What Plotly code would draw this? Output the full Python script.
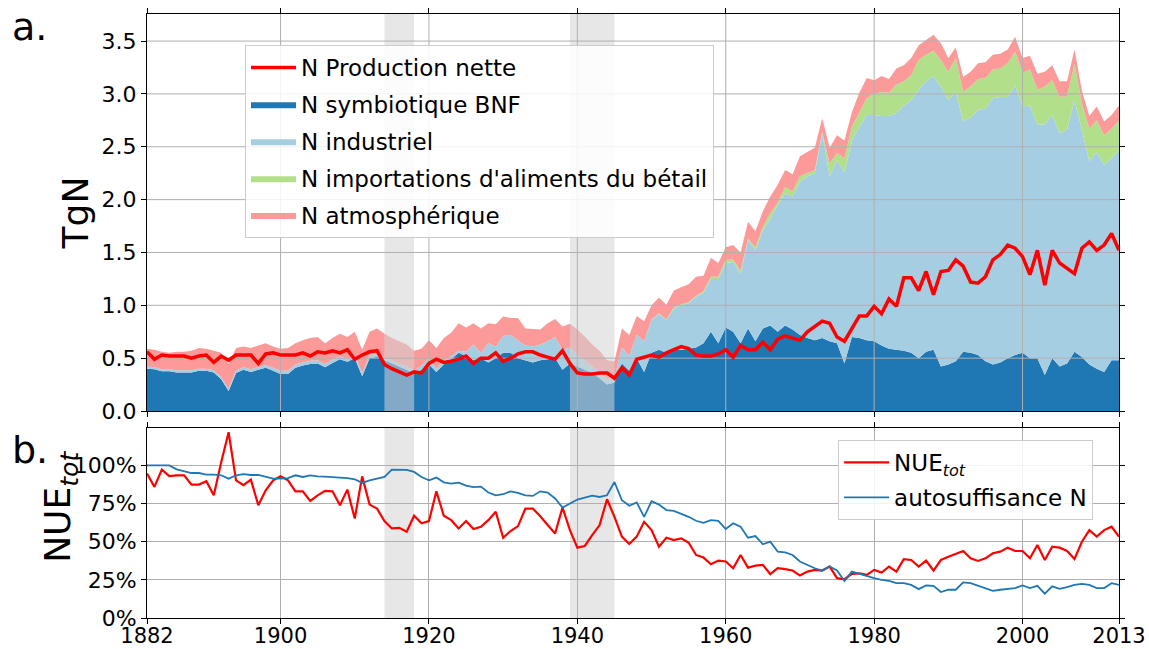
import plotly.graph_objects as go

# ---------------------------------------------------------------------------
# Data (1882-2013)
# ---------------------------------------------------------------------------
years = list(range(1882, 2014))

# Nitrogen inputs, TgN
bnf = [
    0.40, 0.395, 0.375, 0.375, 0.365, 0.365, 0.365, 0.38, 0.38, 0.365,
    0.30, 0.19, 0.36, 0.39, 0.37, 0.39, 0.41, 0.38, 0.35, 0.35,
    0.41, 0.43, 0.445, 0.45, 0.415, 0.455, 0.49, 0.465, 0.50, 0.33,
    0.50, 0.51, 0.48, 0.45, 0.42, 0.39, 0.35, 0.39, 0.44, 0.37,
    0.44, 0.49, 0.55, 0.52, 0.48, 0.50, 0.46, 0.50, 0.55, 0.55,
    0.50, 0.48, 0.46, 0.48, 0.49, 0.50, 0.39, 0.45, 0.42, 0.39,
    0.36, 0.31, 0.25, 0.27, 0.45, 0.38, 0.50, 0.37, 0.55, 0.58,
    0.55, 0.58, 0.58, 0.59, 0.60, 0.64, 0.75, 0.64, 0.79, 0.75,
    0.64, 0.78, 0.66, 0.78, 0.81, 0.75, 0.81, 0.77, 0.72, 0.69,
    0.67, 0.69, 0.66, 0.64, 0.45, 0.70, 0.69, 0.67, 0.66, 0.62,
    0.59, 0.58, 0.57, 0.55, 0.50, 0.56, 0.58, 0.42, 0.44, 0.47,
    0.56, 0.55, 0.53, 0.47, 0.44, 0.46, 0.50, 0.53, 0.55, 0.50,
    0.50, 0.34, 0.50, 0.42, 0.45, 0.56, 0.51, 0.44, 0.40, 0.37,
    0.48, 0.48,
]

industriel = [
    0.02, 0.02, 0.02, 0.02, 0.02, 0.02, 0.02, 0.02, 0.02, 0.02,
    0.02, 0.02, 0.025, 0.025, 0.025, 0.025, 0.025, 0.03, 0.03, 0.03,
    0.03, 0.03, 0.03, 0.03, 0.03, 0.03, 0.03, 0.03, 0.03, 0.03,
    0.03, 0.03, 0.03, 0.03, 0.03, 0.03, 0.03, 0.04, 0.06, 0.03,
    0.04, 0.03, 0.02, 0.04, 0.15, 0.05, 0.18, 0.11, 0.16, 0.17,
    0.17, 0.14, 0.15, 0.15, 0.17, 0.20, 0.19, 0.15, 0.11, 0.09,
    0.06, 0.06, 0.05, 0.05, 0.15, 0.14, 0.22, 0.29, 0.31, 0.34,
    0.31, 0.39, 0.42, 0.43, 0.48, 0.48, 0.50, 0.61, 0.61, 0.66,
    0.66, 0.84, 0.86, 0.93, 1.01, 1.20, 1.25, 1.26, 1.45, 1.53,
    1.58, 1.94, 1.56, 1.73, 1.81, 1.86, 2.00, 2.13, 2.14, 2.17,
    2.20, 2.24, 2.32, 2.39, 2.54, 2.56, 2.59, 2.65, 2.50, 2.55,
    2.18, 2.23, 2.32, 2.39, 2.52, 2.51, 2.47, 2.55, 2.33, 2.39,
    2.21, 2.37, 2.30, 2.21, 2.21, 2.38, 2.15, 1.92, 2.05, 1.96,
    1.91, 1.99,
]

importations = [
    0.0, 0.0, 0.0, 0.0, 0.0, 0.0, 0.0, 0.0, 0.0, 0.0,
    0.0, 0.0, 0.0, 0.0, 0.0, 0.0, 0.0, 0.0, 0.0, 0.0,
    0.0, 0.0, 0.0, 0.0, 0.0, 0.0, 0.0, 0.0, 0.0, 0.0,
    0.0, 0.0, 0.0, 0.0, 0.0, 0.0, 0.0, 0.0, 0.0, 0.0,
    0.0, 0.0, 0.0, 0.0, 0.0, 0.0, 0.0, 0.0, 0.0, 0.0,
    0.0, 0.0, 0.0, 0.0, 0.0, 0.0, 0.0, 0.0, 0.0, 0.0,
    0.0, 0.0, 0.0, 0.0, 0.0, 0.0, 0.0, 0.0, 0.005, 0.005,
    0.005, 0.01, 0.01, 0.01, 0.01, 0.01, 0.02, 0.02, 0.03, 0.02,
    0.03, 0.01, 0.03, 0.03, 0.05, 0.02, 0.06, 0.05, 0.05, 0.03,
    0.03, 0.01, 0.12, 0.07, 0.13, 0.13, 0.13, 0.16, 0.20, 0.23,
    0.22, 0.27, 0.23, 0.24, 0.28, 0.25, 0.24, 0.25, 0.27, 0.32,
    0.28, 0.29, 0.29, 0.29, 0.27, 0.27, 0.32, 0.32, 0.32, 0.34,
    0.33, 0.36, 0.33, 0.34, 0.32, 0.34, 0.25, 0.31, 0.30, 0.28,
    0.28, 0.28,
]

atmospherique = [
    0.17, 0.165, 0.165, 0.155, 0.175, 0.175, 0.185, 0.195, 0.19, 0.185,
    0.23, 0.24, 0.21, 0.195, 0.20, 0.205, 0.205, 0.20, 0.21, 0.215,
    0.20, 0.21, 0.215, 0.22, 0.195, 0.205, 0.21, 0.205, 0.22, 0.22,
    0.22, 0.24, 0.22, 0.21, 0.21, 0.21, 0.19, 0.16, 0.17, 0.195,
    0.21, 0.22, 0.26, 0.23, 0.20, 0.23, 0.19, 0.21, 0.185, 0.16,
    0.21, 0.16, 0.165, 0.14, 0.17, 0.17, 0.22, 0.225, 0.24, 0.225,
    0.21, 0.20, 0.18, 0.15, 0.18, 0.20, 0.18, 0.19, 0.135, 0.15,
    0.14, 0.16, 0.16, 0.17, 0.18, 0.15, 0.18, 0.13, 0.12, 0.14,
    0.17, 0.16, 0.15, 0.15, 0.16, 0.17, 0.16, 0.16, 0.19, 0.20,
    0.21, 0.13, 0.15, 0.17, 0.17, 0.14, 0.19, 0.19, 0.13, 0.15,
    0.13, 0.15, 0.15, 0.16, 0.14, 0.14, 0.15, 0.16, 0.13, 0.10,
    0.14, 0.14, 0.15, 0.15, 0.14, 0.14, 0.13, 0.14, 0.14, 0.13,
    0.15, 0.14, 0.14, 0.15, 0.14, 0.14, 0.12, 0.12, 0.13, 0.13,
    0.13, 0.14,
]

production_nette = [
    0.56, 0.49, 0.53, 0.52, 0.52, 0.52, 0.50, 0.52, 0.53, 0.46,
    0.52, 0.48, 0.53, 0.53, 0.53, 0.45, 0.54, 0.55, 0.53, 0.53,
    0.53, 0.55, 0.52, 0.56, 0.55, 0.57, 0.55, 0.58, 0.49, 0.53,
    0.56, 0.57, 0.44, 0.40, 0.37, 0.34, 0.37, 0.36, 0.45, 0.49,
    0.46, 0.47, 0.49, 0.52, 0.45, 0.50, 0.50, 0.55, 0.47, 0.50,
    0.54, 0.56, 0.56, 0.53, 0.51, 0.49, 0.57, 0.45, 0.36, 0.35,
    0.35, 0.36, 0.36, 0.31, 0.41, 0.34, 0.49, 0.51, 0.53, 0.51,
    0.55, 0.58, 0.61, 0.59, 0.53, 0.52, 0.52, 0.54, 0.58, 0.51,
    0.62, 0.58, 0.58, 0.65, 0.58, 0.68, 0.71, 0.69, 0.67, 0.75,
    0.80, 0.85, 0.83, 0.70, 0.66, 0.78, 0.90, 0.90, 0.99, 0.92,
    1.06, 0.99, 1.26, 1.26, 1.14, 1.32, 1.10, 1.32, 1.33, 1.43,
    1.37, 1.22, 1.21, 1.27, 1.43, 1.48, 1.57, 1.54, 1.46, 1.29,
    1.52, 1.19, 1.52, 1.40, 1.35, 1.30, 1.54, 1.60, 1.52, 1.57,
    1.68, 1.52,
]

# Efficiency indicators, %
nue_tot = [
    94.6, 85.9, 97.2, 93.0, 93.5, 93.5, 87.4, 87.4, 89.6, 80.4,
    102.0, 121.7, 90.2, 87.0, 90.7, 73.9, 83.7, 90.2, 92.8, 90.2,
    83.0, 83.0, 76.7, 80.4, 83.3, 83.0, 73.9, 84.1, 65.2, 92.8,
    74.3, 71.7, 63.5, 58.7, 59.1, 56.5, 67.0, 62.0, 63.5, 83.0,
    67.0, 64.1, 58.7, 63.5, 58.3, 59.8, 64.1, 69.6, 52.6, 57.0,
    60.2, 71.7, 71.7, 66.7, 60.9, 55.4, 72.4, 57.6, 46.1, 47.2,
    54.3, 60.9, 77.8, 66.3, 53.3, 48.5, 53.3, 63.0, 57.6, 46.7,
    52.6, 51.1, 52.2, 49.3, 41.3, 39.6, 35.2, 37.6, 37.0, 32.6,
    41.3, 33.0, 34.3, 34.8, 28.7, 32.6, 32.0, 31.1, 27.8, 30.4,
    31.5, 31.1, 33.7, 26.1, 25.4, 28.9, 29.3, 28.3, 31.5, 29.8,
    33.7, 30.4, 38.5, 38.0, 33.7, 37.6, 31.1, 38.0, 40.2, 42.0,
    43.9, 39.1, 37.4, 39.1, 42.4, 43.5, 46.1, 43.9, 43.9, 39.1,
    47.8, 38.0, 46.7, 46.1, 43.9, 38.7, 50.0, 57.6, 53.3, 57.6,
    59.8, 53.3,
]

autosuffisance = [
    100.0, 100.0, 100.0, 100.0, 97.4, 96.3, 95.0, 95.0, 93.9, 93.9,
    93.5, 91.3, 93.5, 94.3, 93.7, 93.7, 92.4, 91.3, 91.3, 91.7,
    93.5, 92.4, 93.5, 92.8, 92.6, 92.4, 92.0, 91.7, 90.9, 88.5,
    90.2, 91.1, 92.4, 97.2, 97.0, 97.0, 95.7, 92.4, 90.2, 92.0,
    88.9, 88.0, 88.7, 86.7, 85.7, 86.1, 82.2, 80.4, 81.1, 83.0,
    82.0, 80.4, 80.0, 83.0, 82.2, 78.3, 72.4, 75.0, 77.6, 78.9,
    80.2, 79.3, 80.4, 89.1, 77.2, 73.5, 75.7, 66.3, 76.5, 74.3,
    70.7, 70.2, 68.5, 66.3, 63.7, 62.4, 64.1, 63.7, 58.3, 62.0,
    59.8, 52.6, 53.7, 48.3, 50.0, 43.5, 43.0, 41.3, 37.0, 34.8,
    32.6, 31.1, 33.7, 31.1, 24.3, 30.4, 28.9, 27.2, 26.1, 25.0,
    24.3, 22.8, 22.8, 21.7, 18.9, 21.3, 21.1, 17.0, 18.5, 18.5,
    23.3, 22.8, 21.3, 19.6, 17.8, 18.5, 19.1, 19.6, 21.3, 19.6,
    21.1, 15.9, 20.7, 19.1, 20.2, 21.7, 22.4, 21.7, 19.6, 19.6,
    22.8, 21.7,
]

war_periods = [(1914, 1918), (1939, 1945)]
x_tick_years = [1882, 1900, 1920, 1940, 1960, 1980, 2000, 2013]
tgn_ticks = [0.0, 0.5, 1.0, 1.5, 2.0, 2.5, 3.0, 3.5]
pct_ticks = [0, 25, 50, 75, 100]

# ---------------------------------------------------------------------------
# Style
# ---------------------------------------------------------------------------
FONT = "DejaVu Sans"
GRID = "#b0b0b0"
BAND = "rgba(211,211,211,0.55)"
TOP_MAX = 3.756
BOT_MAX = 124.5
X0, X1 = years[0], years[-1]

fig = go.Figure()

# Panel a: stacked nitrogen inputs
areas = [
    ("N symbiotique BNF", bnf, "#1f77b4", 2),
    ("N industriel", industriel, "#a6cee3", 3),
    ("N importations d'aliments du bétail", importations, "#b2df8a", 4),
    ("N atmosphérique", atmospherique, "#fb9a99", 5),
]
for name, vals, color, rank in areas:
    fig.add_trace(go.Scatter(
        x=years, y=vals, name=name, mode="lines",
        line=dict(width=0, color=color), fillcolor=color,
        stackgroup="inputs", legendrank=rank, legendgroup=name,
        hoverinfo="skip",
    ))

# War periods shaded over the areas
for start, end in war_periods:
    fig.add_trace(go.Scatter(
        x=[start, end, end, start, start],
        y=[0, 0, TOP_MAX, TOP_MAX, 0],
        mode="lines", fill="toself", fillcolor=BAND,
        line=dict(width=0), showlegend=False, hoverinfo="skip",
    ))

# Grid of panel a, drawn above the filled areas
gx, gy = [], []
for t in x_tick_years[1:-1]:
    gx += [t, t, None]
    gy += [0, TOP_MAX, None]
for t in tgn_ticks[1:]:
    gx += [X0, X1, None]
    gy += [t, t, None]
fig.add_trace(go.Scatter(
    x=gx, y=gy, mode="lines", line=dict(color=GRID, width=1),
    showlegend=False, hoverinfo="skip",
))

fig.add_trace(go.Scatter(
    x=years, y=production_nette, name="N Production nette", mode="lines",
    line=dict(color="#ff0000", width=3.5), legendrank=1,
    legendgroup="production",
))

# Panel b: efficiency
fig.add_trace(go.Scatter(
    x=years, y=nue_tot, xaxis="x2", yaxis="y2",
    name="NUE<sub><i>tot</i></sub>", mode="lines",
    line=dict(color="#ff0000", width=2.2), legend="legend2",
    legendgroup="nue", legendrank=1,
))
fig.add_trace(go.Scatter(
    x=years, y=autosuffisance, xaxis="x2", yaxis="y2",
    name="autosuffisance N", mode="lines",
    line=dict(color="#1f77b4", width=1.8), legend="legend2",
    legendgroup="auto", legendrank=2,
))

shapes = [
    dict(type="rect", xref="x2", yref="y2", x0=s, x1=e, y0=0, y1=BOT_MAX,
         fillcolor=BAND, line=dict(width=0), layer="below")
    for s, e in war_periods
]

axis_common = dict(
    showline=True, mirror="ticks", linecolor="black", linewidth=1,
    ticks="outside", ticklen=5, tickwidth=1, tickcolor="black",
    tickfont=dict(size=22, color="black", family=FONT), zeroline=False,
    automargin=False,
)

legend_common = dict(
    xanchor="left", yanchor="top", bgcolor="rgba(255,255,255,0.85)",
    bordercolor="#cccccc", borderwidth=1,
    font=dict(size=23, color="black", family=FONT),
    itemwidth=45, traceorder="grouped",
)

x2_axis = dict(axis_common)
x2_axis["tickfont"] = dict(size=21, color="black", family=FONT)

fig.update_layout(
    width=1149, height=649,
    margin=dict(l=147, r=30, t=14, b=31, autoexpand=False),
    paper_bgcolor="white", plot_bgcolor="white",
    font=dict(family=FONT, color="black"),
    showlegend=True,
    xaxis=dict(domain=[0, 1], range=[X0, X1], anchor="y",
               tickvals=x_tick_years, showticklabels=False,
               showgrid=False, **axis_common),
    yaxis=dict(domain=[0.3427, 1], range=[0, TOP_MAX], anchor="x",
               tickvals=tgn_ticks, ticktext=[f"{v:.1f}" for v in tgn_ticks],
               showgrid=False,
               title=dict(text="TgN", font=dict(size=36, family=FONT),
                          standoff=1),
               **axis_common),
    xaxis2=dict(domain=[0, 1], range=[X0, X1], anchor="y2",
                tickvals=x_tick_years,
                ticktext=[str(v) for v in x_tick_years],
                ticklabelstandoff=-6,
                showgrid=True, gridcolor=GRID, gridwidth=1,
                **x2_axis),
    yaxis2=dict(domain=[0, 0.3146], range=[0, BOT_MAX], anchor="x2",
                tickvals=pct_ticks, ticktext=[f"{v}%" for v in pct_ticks],
                showgrid=True, gridcolor=GRID, gridwidth=1,
                **axis_common),
    legend=dict(x=0.1008, y=0.9487, tracegroupgap=4, **legend_common),
    legend2=dict(x=0.711, y=0.2947, tracegroupgap=2, **legend_common),
    shapes=shapes,
    annotations=[
        dict(text="a.", xref="paper", yref="paper", x=-0.141, y=1.018,
             xanchor="left", yanchor="top", showarrow=False,
             font=dict(size=38, family=FONT, color="black")),
        dict(text="b.", xref="paper", yref="paper", x=-0.141, y=0.318,
             xanchor="left", yanchor="top", showarrow=False,
             font=dict(size=38, family=FONT, color="black")),
        # y-axis title of panel b
        dict(text="NUE<sub><i>tot</i></sub>", xref="paper", yref="paper",
             x=-0.0885, y=0.184, xanchor="center", yanchor="middle",
             textangle=-90, showarrow=False,
             font=dict(size=36, family=FONT, color="black")),
    ],
)

fig.write_html("out.html")
